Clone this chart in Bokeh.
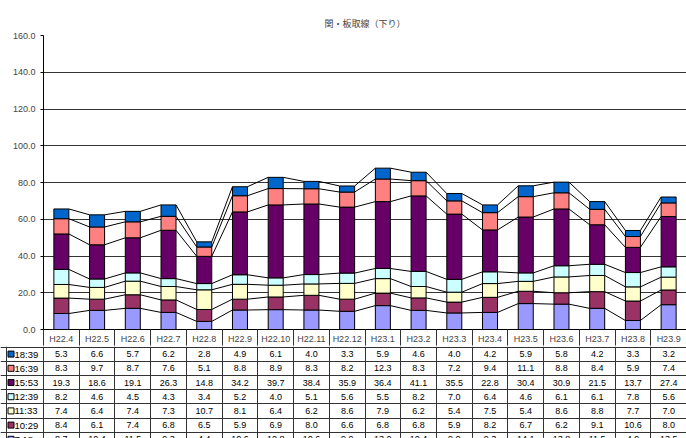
import numpy as np
from bokeh.plotting import figure
from bokeh.models import (ColumnDataSource, FixedTicker, PrintfTickFormatter,
                          Range1d, Grid)
from bokeh.embed import file_html
from bokeh.resources import INLINE
from bokeh.core.properties import value

# ---------------- data ----------------
title_text = "関・板取線（下り）"
categories = ["H22.4", "H22.5", "H22.6", "H22.7", "H22.8", "H22.9", "H22.10",
              "H22.11", "H22.12", "H23.1", "H23.2", "H23.3", "H23.4", "H23.5",
              "H23.6", "H23.7", "H23.8", "H23.9"]
series_names = ["7:18", "10:29", "11:33", "12:39", "15:53", "16:39", "18:39"]
v_0718 = [8.7, 10.4, 11.5, 9.3, 4.4, 10.6, 10.8, 10.6, 9.9, 13.0, 10.4, 9.0, 9.3, 14.1, 13.8, 11.5, 4.9, 13.5]
v_1029 = [8.4, 6.1, 7.4, 6.8, 6.5, 5.9, 6.9, 8.0, 6.6, 6.8, 6.8, 5.9, 8.2, 6.7, 6.2, 9.1, 10.6, 8.0]
v_1133 = [7.4, 6.4, 7.4, 7.3, 10.7, 8.1, 6.4, 6.2, 8.6, 7.9, 6.2, 5.4, 7.5, 5.4, 8.6, 8.8, 7.7, 7.0]
v_1239 = [8.2, 4.6, 4.5, 4.3, 3.4, 5.2, 4.0, 5.1, 5.6, 5.5, 8.2, 7.0, 6.4, 4.6, 6.1, 6.1, 7.8, 5.6]
v_1553 = [19.3, 18.6, 19.1, 26.3, 14.8, 34.2, 39.7, 38.4, 35.9, 36.4, 41.1, 35.5, 22.8, 30.4, 30.9, 21.5, 13.7, 27.4]
v_1639 = [8.3, 9.7, 8.7, 7.6, 5.1, 8.8, 8.9, 8.3, 8.2, 12.3, 8.3, 7.2, 9.4, 11.1, 8.8, 8.4, 5.9, 7.4]
v_1839 = [5.3, 6.6, 5.7, 6.2, 2.8, 4.9, 6.1, 4.0, 3.3, 5.9, 4.6, 4.0, 4.2, 5.9, 5.8, 4.2, 3.3, 3.2]
colors = ["#9999FF", "#993366", "#FFFFCC", "#CCFFFF", "#660066", "#FF8080", "#0066CC"]
y_ticks = [0, 20, 40, 60, 80, 100, 120, 140, 160]

series_values = [v_0718, v_1029, v_1133, v_1239, v_1553, v_1639, v_1839]

# ---------------- layout constants ----------------
FONT = "Liberation Sans"
LEFT = 43            # y-axis area width (= table label column)
FW = 643             # chart frame width
FH = 294             # chart frame height
TOP = 35
HEADER = 16          # category header row height
ROW = 14.2           # table row height
TH = 93              # visible table height
n = len(categories)
xs = list(range(n))
BAR_W = 0.42
unit_px = FW / n
LINE = "#333333"

# ---------------- chart ----------------
chart = figure(frame_width=FW, frame_height=FH, x_range=Range1d(-0.5, n - 0.5),
               y_range=Range1d(0, 160), output_backend="svg",
               toolbar_location=None, min_border_left=LEFT, min_border_right=0,
               min_border_top=TOP, min_border_bottom=HEADER)
chart.outline_line_color = None
chart.title.text = title_text
chart.title.align = "center"
chart.title.text_font = "Noto Sans CJK JP"
chart.title.text_font_size = "9px"
chart.title.text_font_style = "normal"
chart.title.offset = -17
chart.title.standoff = 12

keys = ["s%d" % i for i in range(len(series_values))]
data = {"x": xs}
for k, vals in zip(keys, series_values):
    data[k] = vals
src = ColumnDataSource(data)
chart.vbar_stack(keys, x="x", width=BAR_W, color=colors, line_color="black",
                 line_width=1, source=src)

# series lines connecting stacked tops
cum = np.cumsum(np.array(series_values), axis=0)
x0, y0, x1, y1 = [], [], [], []
for lvl in range(cum.shape[0]):
    for i in range(n - 1):
        x0.append(xs[i] + BAR_W / 2)
        x1.append(xs[i + 1] - BAR_W / 2)
        y0.append(cum[lvl, i])
        y1.append(cum[lvl, i + 1])
chart.segment(x0=x0, y0=y0, x1=x1, y1=y1, line_color="black", line_width=1)

chart.xgrid.visible = False
chart.ygrid.ticker = FixedTicker(ticks=y_ticks)
chart.ygrid.grid_line_color = LINE
chart.ygrid.grid_line_width = 1

chart.yaxis.ticker = FixedTicker(ticks=y_ticks)
chart.yaxis.formatter = PrintfTickFormatter(format="%.1f")
chart.yaxis.major_label_text_font = FONT
chart.yaxis.major_label_text_font_size = "9px"
chart.yaxis.major_tick_out = 3
chart.yaxis.major_tick_in = 0
chart.yaxis.axis_line_color = "black"
chart.yaxis.major_label_standoff = 5

chart.xaxis.ticker = FixedTicker(ticks=xs, minor_ticks=[i - 0.5 for i in range(n + 1)])
chart.xaxis.major_label_overrides = {i: c for i, c in zip(xs, categories)}
chart.xaxis.major_tick_out = 0
chart.xaxis.major_tick_in = 0
chart.xaxis.minor_tick_out = HEADER
chart.xaxis.minor_tick_in = 0
chart.xaxis.minor_tick_line_color = LINE
chart.xaxis.major_label_standoff = -12
chart.xaxis.major_label_text_font = FONT
chart.xaxis.major_label_text_font_size = "9px"
chart.xaxis.axis_line_color = "black"

# ---------------- table ----------------
x_start = -0.5 - LEFT / unit_px
table = figure(width=LEFT + FW, height=TH, x_range=Range1d(x_start, n - 0.5),
               y_range=Range1d(-(TH - 0.5) / ROW, 0.5 / ROW),
               output_backend="svg", toolbar_location=None,
               x_axis_type=None, y_axis_type=None,
               min_border_left=0, min_border_right=0,
               min_border_top=0, min_border_bottom=0)
table.outline_line_color = None
table.add_layout(Grid(dimension=0, ticker=FixedTicker(
    ticks=[x_start + 6 / unit_px] + [i - 0.5 for i in range(n + 1)]),
    grid_line_color=LINE, grid_line_width=1))
table.add_layout(Grid(dimension=1, ticker=FixedTicker(
    ticks=[-r for r in range(len(series_values) + 1)]),
    grid_line_color=LINE, grid_line_width=1))

rows_names = series_names[::-1]
rows_vals = series_values[::-1]
rows_cols = colors[::-1]
cx, cy, ct = [], [], []
for r, vals in enumerate(rows_vals):
    for i, v in enumerate(vals):
        cx.append(xs[i])
        cy.append(-(r + 0.5))
        ct.append("%.1f" % v)
table.text(x=cx, y=cy, text=ct, text_align="center", text_baseline="middle",
           text_font=value(FONT), text_font_size="9px", text_color="black")

ry = [-(r + 0.5) for r in range(len(rows_names))]
table.scatter(x=[x_start + 10.5 / unit_px] * len(ry), y=ry, marker="square",
              size=6, fill_color=rows_cols, line_color="black", line_width=1)
table.text(x=[x_start + 14 / unit_px] * len(ry), y=ry, text=rows_names,
           text_align="left", text_baseline="middle",
           text_font=value(FONT), text_font_size="9.5px", text_color="black")

# two independent roots, stacked, so the frames are not aligned to each other
open("out.html", "w").write(file_html([chart, table], INLINE))
